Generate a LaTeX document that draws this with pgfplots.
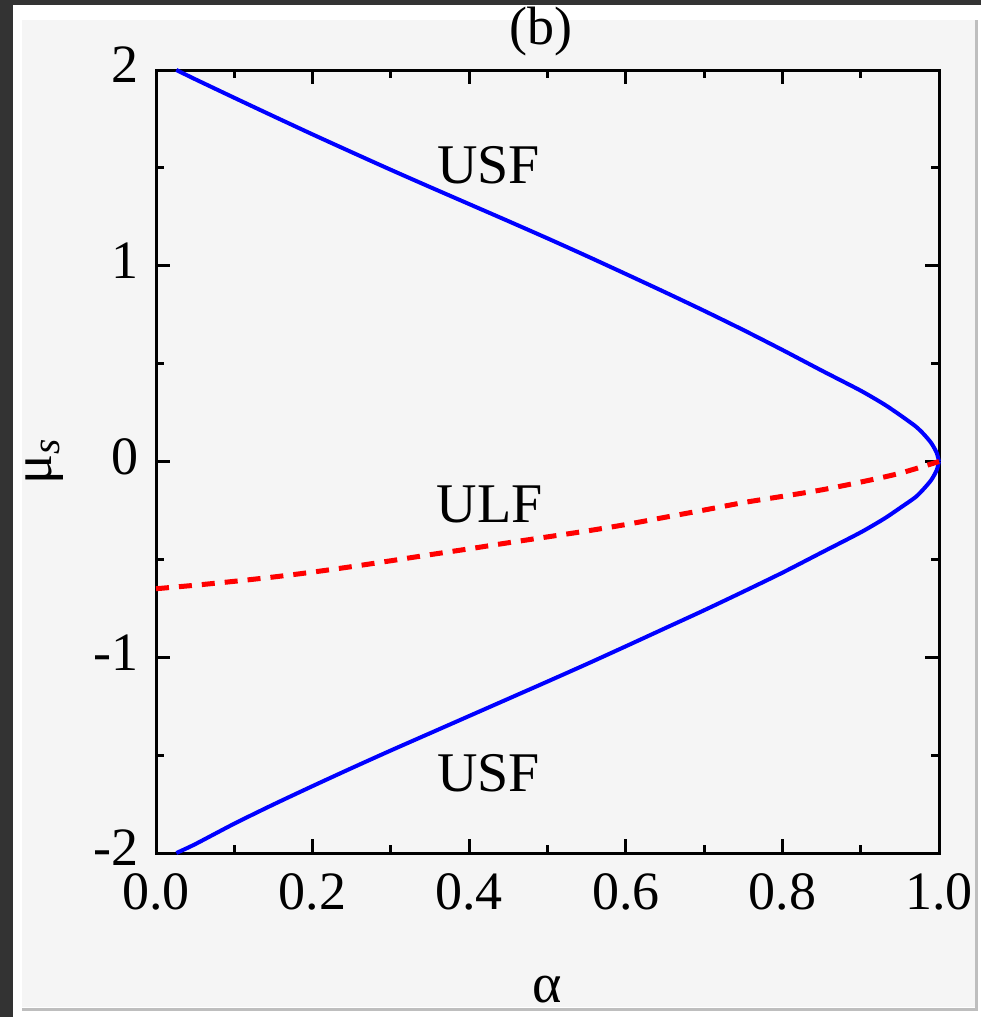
\documentclass[border=0pt]{standalone}
\usepackage{fontspec}
\setmainfont{Liberation Serif}
\usepackage{pgfplots}
\pgfplotsset{compat=1.18}
\definecolor{frame}{RGB}{51,51,51}
\definecolor{panel}{RGB}{245,245,245}
\definecolor{edgegray}{RGB}{190,190,190}

\begin{document}
\begin{tikzpicture}
% window frame, in pixel units of the reference
\begin{scope}[x=0.5pt,y=-0.5pt]
  \fill[frame] (0,0) rectangle (981,1017);
  \fill[white] (13,5) rectangle (981,1017);
  \fill[panel] (22,20) rectangle (975,1007);
  \draw[edgegray, line width=1.5pt] (976,20) -- (976,1009) -- (22,1009);
\end{scope}

\begin{axis}[
  at={(78pt,-426.5pt)}, anchor=south west,
  scale only axis, width=391.5pt, height=391.5pt,
  xmin=0, xmax=1, ymin=-2, ymax=2,
  xtick={0,0.2,0.4,0.6,0.8,1}, xticklabels={0.0,0.2,0.4,0.6,0.8,1.0},
  ytick={-2,-1,0,1,2}, yticklabels={-2,-1,0,1,2},
  minor x tick num=1, minor y tick num=1,
  tick align=inside, major tick length=7pt, minor tick length=4pt,
  axis line style={line width=1.5pt},
  every tick/.style={black, line width=1.5pt},
  ticklabel style={font=\fontsize{27}{27}\selectfont},
  xticklabel style={inner sep=0pt, yshift=-10pt},
  yticklabel style={inner sep=0pt, xshift=-8.5pt, yshift=2.5pt},
  xlabel={α}, ylabel={μ\textsubscript{\textit{s}}},
  label style={font=\fontsize{28}{28}\selectfont},
  xlabel style={at={(axis description cs:0.5,0)}, anchor=center, yshift=-68.5pt},
  ylabel style={at={(axis description cs:0,0.5)}, anchor=center, yshift=55.5pt},
  title={(b)},
  title style={font=\fontsize{27}{27}\selectfont, at={(axis description cs:0.5,1)},
               anchor=center, yshift=13pt, xshift=-3.5pt},
  clip=false,
]
% upper unstable solitary branch
\addplot[blue, line width=2pt, smooth, tension=0.4] coordinates {
  (0.026,2.000) (0.05,1.953) (0.10,1.858) (0.15,1.764) (0.20,1.671)
  (0.25,1.580) (0.30,1.490) (0.35,1.402) (0.40,1.315) (0.45,1.228)
  (0.50,1.140) (0.55,1.050) (0.60,0.958) (0.65,0.865) (0.70,0.770)
  (0.75,0.672) (0.80,0.570) (0.85,0.465) (0.90,0.362) (0.93,0.292)
  (0.95,0.238) (0.97,0.180) (0.98,0.142) (0.99,0.095) (0.997,0.045)
  (1.00,0.000)
};
% lower unstable solitary branch
\addplot[blue, line width=2pt, smooth, tension=0.4] coordinates {
  (0.026,-2.000) (0.05,-1.955) (0.10,-1.850) (0.15,-1.752) (0.20,-1.658)
  (0.25,-1.566) (0.30,-1.476) (0.35,-1.388) (0.40,-1.300) (0.45,-1.212)
  (0.50,-1.124) (0.55,-1.035) (0.60,-0.944) (0.65,-0.852) (0.70,-0.760)
  (0.75,-0.665) (0.80,-0.568) (0.85,-0.465) (0.90,-0.362) (0.93,-0.292)
  (0.95,-0.238) (0.97,-0.182) (0.98,-0.142) (0.99,-0.095) (0.997,-0.045)
  (1.00,0.000)
};
% ULF branch
\addplot[red, line width=2.5pt, dash pattern=on 6.5pt off 5pt, smooth] coordinates {
  (0.00,-0.650) (0.05,-0.632) (0.10,-0.612) (0.15,-0.590) (0.20,-0.565)
  (0.25,-0.537) (0.30,-0.507) (0.35,-0.476) (0.40,-0.446) (0.45,-0.415)
  (0.50,-0.385) (0.55,-0.355) (0.60,-0.322) (0.65,-0.285) (0.70,-0.248)
  (0.75,-0.210) (0.80,-0.178) (0.85,-0.145) (0.90,-0.105) (0.95,-0.060)
  (1.00,0.000)
};
\node[font=\fontsize{28}{28}\selectfont] at (axis cs:0.425,1.515) {USF};
\node[font=\fontsize{28}{28}\selectfont] at (axis cs:0.426,-0.217) {ULF};
\node[font=\fontsize{28}{28}\selectfont] at (axis cs:0.425,-1.594) {USF};
\end{axis}
\pgfresetboundingbox
\path[use as bounding box] (0,0) rectangle (490.5pt,-508.5pt);
\end{tikzpicture}
\end{document}
